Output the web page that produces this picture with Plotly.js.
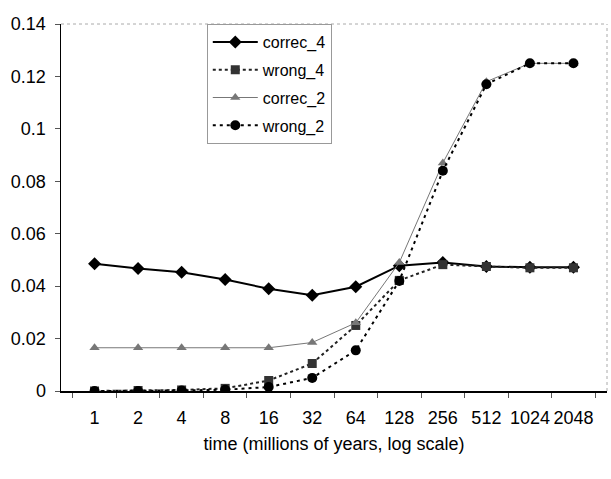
<!DOCTYPE html>
<html>
<head>
<meta charset="utf-8">
<script src="https://cdn.plot.ly/plotly-3.0.1.min.js"></script>
<style>html,body{margin:0;padding:0;background:#fff;}#chart{width:611px;height:479px;}</style>
</head>
<body>
<div id="chart"></div>
<script>
const categories = ["1","2","4","8","16","32","64","128","256","512","1024","2048"];
const correc4 = [0.0485,0.0467,0.0453,0.0425,0.0390,0.0365,0.0398,0.0478,0.0490,0.0475,0.0472,0.0472];
const wrong4  = [0.0000,0.0002,0.0004,0.0010,0.0040,0.0105,0.0250,0.0422,0.0482,0.0475,0.0470,0.0470];
const correc2 = [0.0165,0.0165,0.0165,0.0165,0.0165,0.0185,0.0260,0.0490,0.0870,0.1180,0.1250,0.1250];
const wrong2  = [0.0000,0.0000,0.0002,0.0005,0.0015,0.0050,0.0155,0.0420,0.0840,0.1170,0.1250,0.1250];
const yTicks = [0,0.02,0.04,0.06,0.08,0.1,0.12,0.14];
const yTickText = ["0","0.02","0.04","0.06","0.08","0.1","0.12","0.14"];

const traces = [
  {x: categories, y: correc4, name: "correc_4", legendgroup: "a", mode: "lines+markers",
   line: {color: "#000", width: 2}, marker: {symbol: "diamond", size: 10, color: "#000"}},
  {x: categories, y: wrong4, name: "wrong_4", legendgroup: "b", mode: "lines+markers",
   line: {color: "#222", width: 2, dash: "dot"}, marker: {symbol: "square", size: 9, color: "#333"}},
  {x: categories, y: correc2, name: "correc_2", legendgroup: "c", mode: "lines+markers",
   line: {color: "#777", width: 1}, marker: {symbol: "triangle-up", size: 9, color: "#777"}},
  {x: categories, y: wrong2, name: "wrong_2", legendgroup: "d", mode: "lines+markers",
   line: {color: "#000", width: 2, dash: "3px,4px"}, marker: {symbol: "circle", size: 10, color: "#000"}}
];

const FONT = "'Liberation Sans', Arial, sans-serif";

const layout = {
  width: 611, height: 479,
  margin: {l: 61, r: 4, t: 24, b: 88},
  paper_bgcolor: "#fff", plot_bgcolor: "#fff",
  font: {family: FONT, size: 18, color: "#000"},
  showlegend: true,
  legend: {x: 0.267, y: 1.0, xanchor: "left", yanchor: "top",
    bordercolor: "#999", borderwidth: 1, bgcolor: "#fff",
    font: {size: 16, color: "#000"}, tracegroupgap: 4, itemwidth: 45},
  xaxis: {type: "category", showgrid: false, zeroline: false,
    showline: true, linecolor: "#000", linewidth: 1.5,
    ticks: "outside", tickson: "boundaries", ticklen: 5, tickcolor: "#555",
    tickangle: 0, tickfont: {size: 18}, ticklabelstandoff: 10, fixedrange: true,
    automargin: true,
    title: {text: "time (millions of years, log scale)", font: {size: 18}, standoff: 10}},
  yaxis: {range: [0, 0.14], tickvals: yTicks, ticktext: yTickText,
    showgrid: false, zeroline: false, showline: true, linecolor: "#000", linewidth: 1.5,
    ticks: "outside", ticklen: 5, tickcolor: "#555", tickfont: {size: 18}, ticklabelstandoff: 5},
  shapes: [
    {type: "line", xref: "paper", yref: "paper", x0: 0, x1: 1, y0: 1, y1: 1,
     line: {color: "#aaa", width: 1, dash: "dot"}},
    {type: "line", xref: "paper", yref: "paper", x0: 1, x1: 1, y0: 0, y1: 1,
     line: {color: "#aaa", width: 1, dash: "dot"}}
  ]
};

Plotly.newPlot("chart", traces, layout, {displayModeBar: false, staticPlot: true});
</script>
</body>
</html>
